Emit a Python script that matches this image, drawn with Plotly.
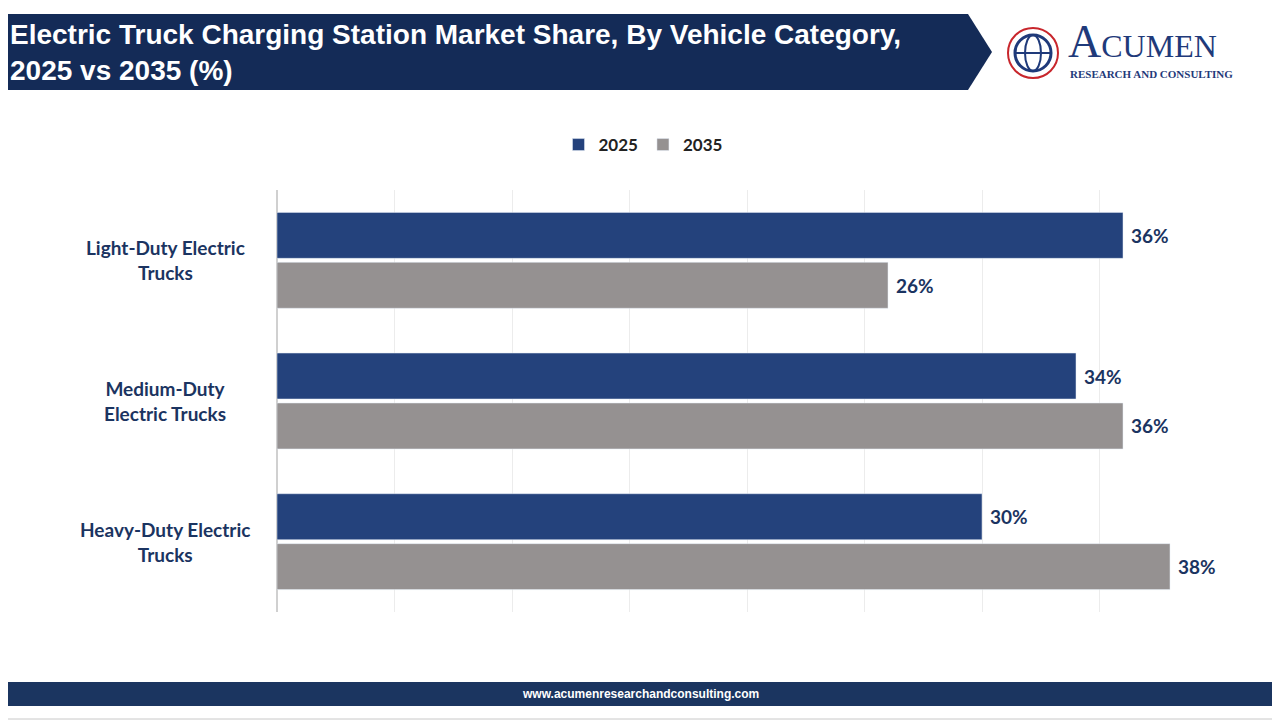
import plotly.graph_objects as go

categories = ["Light-Duty Electric<br>Trucks", "Medium-Duty<br>Electric Trucks", "Heavy-Duty Electric<br>Trucks"]
share_2025 = [36, 34, 30]
share_2035 = [26, 36, 38]

W, H = 1280, 720
OFF = 8  # page body margin shifts the figure
L, R, T, B = 277 - OFF, 1217 - OFF, 190 - OFF, 612 - OFF  # plot area in pixels


def px(x):
    return (x - OFF - L) / (R - L)


def py(y):
    return (B - (y - OFF)) / (B - T)


NAVY = "#1b3461"
fig = go.Figure()
fig.add_trace(go.Bar(
    y=categories, x=share_2025, name="<b>2025</b>", orientation="h",
    marker=dict(color="#24427c"),
    text=[f"{v}%" for v in share_2025],
))
fig.add_trace(go.Bar(
    y=categories, x=share_2035, name="<b>2035</b>", orientation="h",
    marker=dict(color="#959191"),
    text=[f"{v}%" for v in share_2035],
))
fig.update_traces(textposition="outside", texttemplate=" <b>%{text}</b>", cliponaxis=False,
                  textfont=dict(family="Lato", size=19, color=NAVY))

shapes = [
    dict(type="path", xref="paper", yref="paper", line_width=0, fillcolor="#142b57",
         path=f"M {px(0)} {py(14)} L {px(968)} {py(14)} L {px(992)} {py(52)} "
              f"L {px(968)} {py(90)} L {px(0)} {py(90)} Z"),
    dict(type="rect", xref="paper", yref="paper", line_width=0, fillcolor="#1b3560",
         x0=px(0), x1=px(W + 10), y0=py(682), y1=py(706)),
    dict(type="rect", xref="paper", yref="paper", line=dict(color="#c8c8c8", width=1),
         x0=px(1), x1=px(W - 1), y0=py(1), y1=py(H - 1)),
    # logo globe
    dict(type="circle", xref="paper", yref="paper", line=dict(color="#c8262c", width=2),
         x0=px(1008), x1=px(1058), y0=py(28), y1=py(78)),
    dict(type="circle", xref="paper", yref="paper", line=dict(color="#1f3a7a", width=3),
         x0=px(1015), x1=px(1051), y0=py(35), y1=py(71)),
    dict(type="line", xref="paper", yref="paper", line=dict(color="#1f3a7a", width=2),
         x0=px(1015), x1=px(1051), y0=py(53), y1=py(53)),
    dict(type="circle", xref="paper", yref="paper", line=dict(color="#1f3a7a", width=2),
         x0=px(1025), x1=px(1041), y0=py(35), y1=py(71)),
]

annotations = [
    dict(text="<b>Electric Truck Charging Station Market Share, By Vehicle Category,<br>2025 vs 2035 (%)</b>",
         xref="paper", yref="paper", x=px(8), y=py(52), xanchor="left", yanchor="middle",
         align="left", showarrow=False, font=dict(family="Liberation Sans", size=28, color="white")),
    dict(text="<b>www.acumenresearchandconsulting.com</b>", xref="paper", yref="paper",
         x=px(640), y=py(694), xanchor="center", yanchor="middle", showarrow=False,
         font=dict(family="Liberation Sans", size=12, color="white")),
    dict(text="A<span style='font-size:32px'>CUMEN</span>", xref="paper", yref="paper",
         x=px(1066), y=py(42), xanchor="left", yanchor="middle", showarrow=False,
         font=dict(family="Liberation Serif", size=46, color="#1f3a7a")),
    dict(text="<b>RESEARCH AND CONSULTING</b>", xref="paper", yref="paper",
         x=px(1068), y=py(74), xanchor="left", yanchor="middle", showarrow=False,
         font=dict(family="Liberation Serif", size=11, color="#1f3a7a")),
]
for c in categories:
    annotations.append(dict(text=f"<b>{c}</b>", xref="paper", yref="y", x=px(165), y=c,
                            xanchor="center", yanchor="middle", align="center", showarrow=False,
                            font=dict(family="Lato", size=19, color=NAVY)))

fig.update_layout(
    width=W, height=H, barmode="group", bargap=0.29, bargroupgap=0.08,
    paper_bgcolor="white", plot_bgcolor="white",
    margin=dict(l=L, r=W - R, t=T, b=H - B, autoexpand=False),
    font=dict(family="Lato", color=NAVY),
    legend=dict(orientation="h", x=px(643), xanchor="center", y=py(145), yanchor="middle",
                font=dict(family="Lato", size=17, color="#222222"), traceorder="normal",
                itemwidth=30),
    xaxis=dict(range=[0, 40], dtick=5, showticklabels=False, showgrid=True,
               gridcolor="#ececec", zeroline=True, zerolinecolor="#d0d0d0"),
    yaxis=dict(autorange="reversed", showticklabels=False, showgrid=False),
    shapes=shapes, annotations=annotations,
)

fig.write_html("out.html")
